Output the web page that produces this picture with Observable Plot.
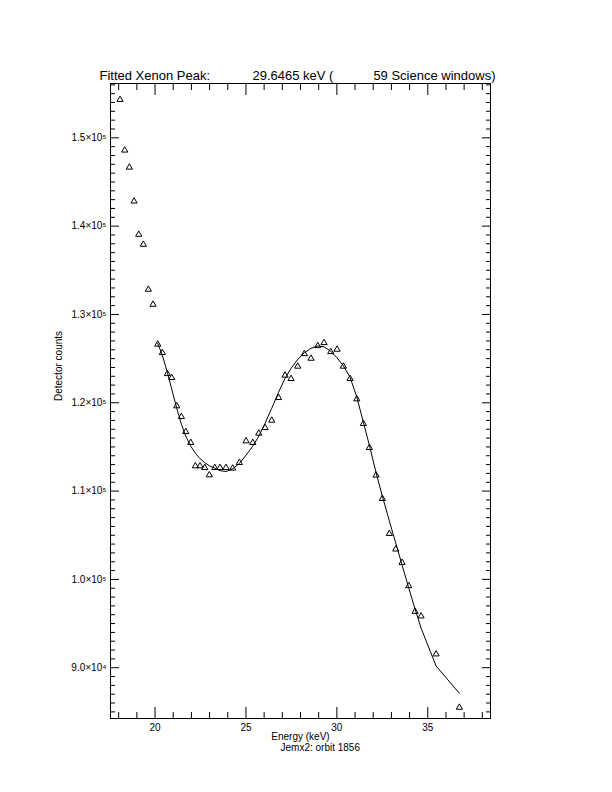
<!DOCTYPE html>
<html>
<head>
<meta charset="utf-8">
<script src="https://cdn.jsdelivr.net/npm/d3@7"></script>
<script src="https://cdn.jsdelivr.net/npm/@observablehq/plot@0.6"></script>
<style>
  html, body { margin: 0; padding: 0; background: #fff; }
  #chart { width: 612px; height: 792px; }
</style>
</head>
<body>
<div id="chart"></div>
<script>
// ---- data ----
const energy = [18.075, 18.333, 18.586, 18.845, 19.103, 19.356, 19.631, 19.890, 20.149, 20.402,
  20.677, 20.919, 21.194, 21.447, 21.689, 21.964, 22.217, 22.475, 22.734, 22.987,
  23.284, 23.575, 23.905, 24.274, 24.637, 25.005, 25.374, 25.704, 26.051, 26.419,
  26.793, 27.151, 27.481, 27.849, 28.212, 28.581, 28.949, 29.296, 29.664, 30.011,
  30.357, 30.726, 31.094, 31.458, 31.788, 32.156, 32.503, 32.888, 33.240, 33.586,
  33.955, 34.301, 34.631, 35.457, 36.738];
const counts = [154410, 148680, 146750, 142910, 139140, 138010, 132920, 131220, 126700, 125750,
  123370, 122920, 119720, 118510, 116810, 115570, 112930, 112930, 112740, 111910,
  112740, 112740, 112740, 112670, 113300, 115760, 115570, 116630, 117260, 118100,
  120660, 123190, 122810, 124210, 125630, 125110, 126540, 126880, 125860, 126130,
  124210, 122810, 120510, 117720, 115000, 111880, 109230, 105270, 103510, 101990,
  99360, 96450, 95930, 91630, 85590];
const fitEnergy = [20.149, 20.402, 20.677, 20.919, 21.194, 21.447, 21.689, 21.964, 22.217, 22.475,
  22.734, 22.987, 23.284, 23.575, 23.905, 24.274, 24.637, 25.005, 25.374, 25.704,
  26.051, 26.419, 26.793, 27.151, 27.481, 27.849, 28.212, 28.581, 28.949, 29.296,
  29.664, 30.011, 30.357, 30.726, 31.094, 31.458, 31.788, 32.156, 32.503, 32.888,
  33.240, 33.586, 33.955, 34.301, 34.631, 35.457, 36.738];
const fitCounts = [126730, 125370, 123450, 121530, 119380, 117570, 116210, 115080, 114290, 113670,
  113210, 112870, 112590, 112310, 112220, 112520, 113120, 114060, 115080, 116210,
  117680, 119380, 121190, 122770, 123900, 124920, 125660, 126170, 126430, 126340,
  125830, 125090, 124190, 122890, 120660, 117800, 115190, 112080, 109420, 106600,
  104110, 101620, 99020, 96640, 94490, 90190, 87110];

const xMajor = [20, 25, 30, 35];
const xMinor = [18, 19, 21, 22, 23, 24, 26, 27, 28, 29, 31, 32, 33, 34, 36, 37, 38];
const yMajor = [90000, 100000, 110000, 120000, 130000, 140000, 150000];
const yTickLabels = ["9.0×10⁴", "1.0×10⁵", "1.1×10⁵", "1.2×10⁵", "1.3×10⁵", "1.4×10⁵", "1.5×10⁵"];
const yMinor = d3.range(85000, 156001, 1000).filter(v => v % 10000 !== 0);

const titleParts = ["Fitted Xenon Peak:", "29.6465 keV (", "59 Science windows)"];
const xLabel = "Energy (keV)";
const subLabel = "Jemx2: orbit 1856";
const yLabel = "Detector counts";

const points = energy.map((e, i) => ({e, c: counts[i]}));
const fit = fitEnergy.map((e, i) => ({e, c: fitCounts[i]}));

const tri = {
  draw(ctx) {
    ctx.moveTo(0, -2.8);
    ctx.lineTo(3.1, 2.6);
    ctx.lineTo(-3.1, 2.6);
    ctx.closePath();
  }
};

const fmtY = v => yTickLabels[yMajor.indexOf(v)] ?? "";
const none = () => "";

const chart = Plot.plot({
  width: 612,
  height: 792,
  marginLeft: 110,
  marginRight: 122,
  marginTop: 83,
  marginBottom: 74,
  style: {fontFamily: "'Liberation Sans', Arial, sans-serif", fontSize: "10px", background: "#fff", color: "#000"},
  x: {domain: [17.55, 38.45], label: null},
  y: {domain: [84250, 156150], label: null},
  marks: [
    Plot.frame({stroke: "#000"}),
    // bottom
    Plot.axisX(xMajor, {anchor: "bottom", tickSize: 0, tickPadding: 5, tickFormat: d => String(d), fontSize: 10}),
    Plot.axisX(xMajor, {anchor: "bottom", tickSize: -11, tickFormat: none}),
    Plot.axisX(xMinor, {anchor: "bottom", tickSize: -6, tickFormat: none}),
    // top
    Plot.axisX(xMajor, {anchor: "top", tickSize: -11, tickFormat: none}),
    Plot.axisX(xMinor, {anchor: "top", tickSize: -6, tickFormat: none}),
    // left
    Plot.axisY(yMajor, {anchor: "left", tickSize: 0, tickPadding: 4, tickFormat: fmtY, fontSize: 10}),
    Plot.axisY(yMajor, {anchor: "left", tickSize: -9, tickFormat: none}),
    Plot.axisY(yMinor, {anchor: "left", tickSize: -5, tickFormat: none}),
    // right
    Plot.axisY(yMajor, {anchor: "right", tickSize: -9, tickFormat: none}),
    Plot.axisY(yMinor, {anchor: "right", tickSize: -5, tickFormat: none}),
    // data
    Plot.line(fit, {x: "e", y: "c", stroke: "#000", strokeWidth: 1}),
    Plot.dot(points, {x: "e", y: "c", symbol: tri, r: 3, stroke: "#000", fill: "none", strokeWidth: 1}),
    // title pieces
    Plot.text([titleParts[0]], {frameAnchor: "top-left", dx: -11, dy: -7.2, textAnchor: "start", lineAnchor: "middle", fontSize: 13}),
    Plot.text([titleParts[1]], {frameAnchor: "top-left", dx: 142, dy: -7.2, textAnchor: "start", lineAnchor: "middle", fontSize: 13}),
    Plot.text([titleParts[2]], {frameAnchor: "top-right", dx: 5, dy: -7.2, textAnchor: "end", lineAnchor: "middle", fontSize: 13}),
    // axis labels
    Plot.text([xLabel], {frameAnchor: "bottom", dy: 18.5, lineAnchor: "middle", fontSize: 10}),
    Plot.text([subLabel], {frameAnchor: "bottom-left", dx: 170, dy: 29.5, textAnchor: "start", lineAnchor: "middle", fontSize: 10}),
    Plot.text([yLabel], {frameAnchor: "left", dx: -52, rotate: -90, lineAnchor: "middle", fontSize: 10})
  ]
});
document.getElementById("chart").appendChild(chart);
</script>
</body>
</html>
